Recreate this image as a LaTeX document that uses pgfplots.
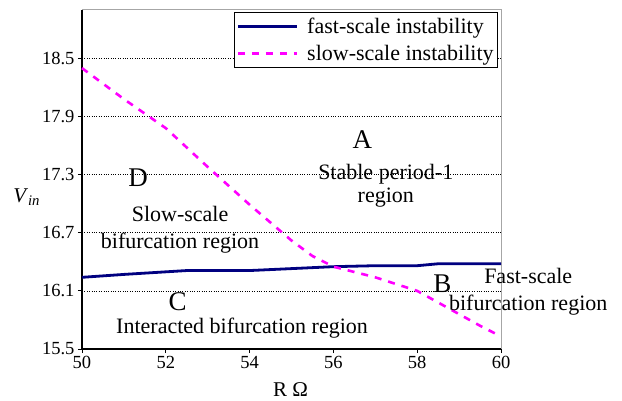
\documentclass[border=0pt]{standalone}
\usepackage{fontspec}
\setmainfont{Liberation Serif}
\setsansfont{Liberation Serif}
\usepackage{pgfplots}
\pgfplotsset{compat=1.18}
\definecolor{navyline}{RGB}{0,0,128}
\definecolor{pinkline}{RGB}{255,0,255}
\pgfplotsset{longleg/.style={legend image code/.code={\draw[##1] (0bp,0bp) -- (59bp,0bp); \path (66bp,0bp);}}}

\begin{document}
\begin{tikzpicture}
\begin{axis}[
  name=ax,
  scale only axis,
  width=419bp, height=339bp,
  xmin=50, xmax=60,
  ymin=15.5, ymax=19.0,
  xtick={50,52,54,56,58,60},
  ytick={15.5,16.1,16.7,17.3,17.9,18.5},
  yticklabel style={/pgf/number format/.cd, fixed, fixed zerofill, precision=1},
  /pgf/number format/assume math mode=true,
  tick label style={font=\rmfamily\fontsize{18.5bp}{20bp}\selectfont},
  axis lines=left,
  axis line style={-, black, line width=1.3bp},
  tick align=outside,
  major tick length=4bp,
  tick style={black, line width=0.8bp},
  ymajorgrids,
  grid style={black, dotted, line width=0.6bp},
  clip=false,
  legend cell align=left,
  legend style={at={(1,1)}, anchor=north east, xshift=-3bp, yshift=-2bp,
    draw=black, line width=0.8bp, fill=white,
    font=\rmfamily\fontsize{22bp}{24bp}\selectfont,
    inner xsep=2bp, inner ysep=3.5bp, row sep=6bp,
    nodes={inner sep=2bp}},
]
% gray top and right border
\draw[gray!70, line width=1bp] (rel axis cs:0,1) -- (rel axis cs:1,1) -- (rel axis cs:1,0);

\addplot[color=navyline, line width=2.8bp, longleg] coordinates {
  (50,16.24) (51,16.27) (52.5,16.31) (54,16.31) (56,16.35)
  (57,16.36) (58,16.36) (58.5,16.38) (60,16.38)
};
\addlegendentry{fast-scale instability}

\addplot[color=pinkline, line width=2.6bp, dash pattern=on 7bp off 7bp, longleg] coordinates {
  (50,18.40) (51,18.08) (52,17.78) (53,17.38) (54,16.99) (55,16.62)
  (55.5,16.46) (56,16.35) (57,16.24) (58,16.10) (58.5,15.98) (59.5,15.74) (60,15.63)
};
\addlegendentry{slow-scale instability}

% region labels
\node[anchor=base, font=\fontsize{27bp}{30bp}\selectfont] at (axis cs:56.69,17.57) {A};
\node[anchor=base, font=\fontsize{22bp}{24bp}\selectfont] at (axis cs:57.25,17.25) {Stable period-1};
\node[anchor=base, font=\fontsize{22bp}{24bp}\selectfont] at (axis cs:57.25,17.01) {region};

\node[anchor=base, font=\fontsize{27bp}{30bp}\selectfont] at (axis cs:51.34,17.175) {D};
\node[anchor=base, font=\fontsize{22bp}{24bp}\selectfont] at (axis cs:52.34,16.82) {Slow-scale};
\node[anchor=base, font=\fontsize{22bp}{24bp}\selectfont] at (axis cs:52.34,16.54) {bifurcation region};

\node[anchor=base, font=\fontsize{27bp}{30bp}\selectfont] at (axis cs:52.28,15.90) {C};
\node[anchor=base, font=\fontsize{22bp}{24bp}\selectfont] at (axis cs:53.82,15.665) {Interacted bifurcation region};

\node[anchor=base, font=\fontsize{27bp}{30bp}\selectfont] at (axis cs:58.60,16.08) {B};
\node[anchor=base, font=\fontsize{22bp}{24bp}\selectfont] at (axis cs:60.65,16.18) {Fast-scale};
\node[anchor=base, font=\fontsize{22bp}{24bp}\selectfont] at (axis cs:60.65,15.90) {bifurcation region};

% axis labels
\node[anchor=base, font=\fontsize{21bp}{23bp}\selectfont] at (axis cs:48.68,17.01) {\textit{V}\textsubscript{\textit{in}}};
\node[anchor=base, font=\fontsize{21bp}{23bp}\selectfont] at (axis cs:54.98,15.01) {R Ω};
\end{axis}
\pgfresetboundingbox
\path[use as bounding box] ([shift={(-82bp,-52bp)}]ax.south west) rectangle ([shift={(121bp,10bp)}]ax.north east);
\end{tikzpicture}
\end{document}
